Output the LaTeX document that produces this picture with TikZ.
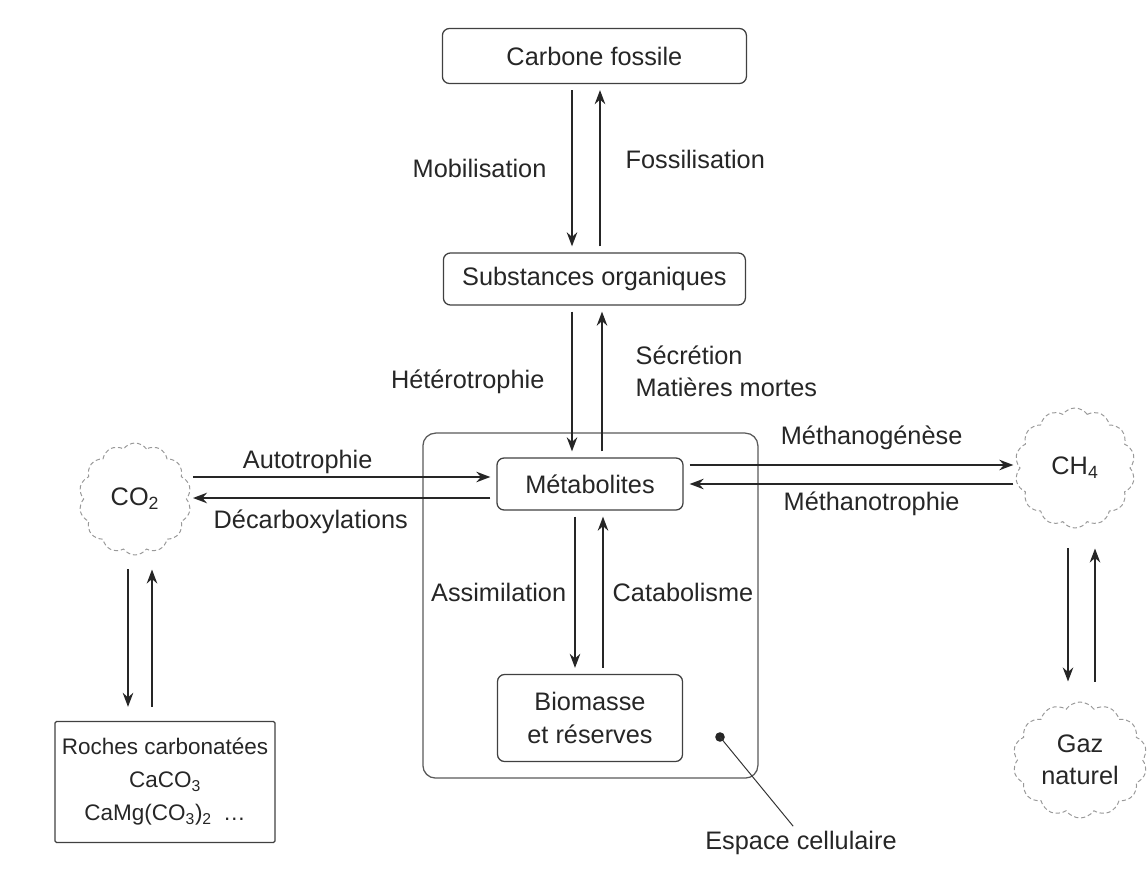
\documentclass[tikz,border=0pt]{standalone}
\usepackage{fontspec}
\setmainfont{Liberation Sans}
\usetikzlibrary{positioning,shapes.symbols,arrows.meta}
\tikzset{
  bo/.style={rectangle, rounded corners=5pt, draw=black!75, line width=0.9pt, text centered, align=center},
  ce/.style={rectangle, rounded corners=9pt, draw=black!65, line width=0.9pt},
  nu/.style={cloud, cloud puffs=14, cloud puff arc=110, cloud ignores aspect, draw=black!40, densely dashed, line width=0.7pt, align=center},
  fl/.style={->, line width=1.2pt, draw=black!85, shorten <=0.15cm, shorten >=0.15cm},
  lb/.style={inner sep=2pt},
  >={Stealth[length=10pt,width=7.5pt]}
}

\begin{document}
\begin{tikzpicture}[font=\fontsize{18}{23}\selectfont, text=black!85]
  \useasboundingbox (0,0) rectangle (28.7,21.9);
  \node[ce, minimum width=8.375cm, minimum height=8.625cm] (cell) at (14.76,6.76) {};
  \node[bo, minimum width=7.6cm, minimum height=1.375cm] (fossil) at (14.86,20.5) {Carbone fossile};
  \node[bo, minimum width=7.55cm, minimum height=1.3cm] (subst) at (14.86,14.925) {Substances organiques};
  \node[bo, minimum width=4.65cm, minimum height=1.3cm] (metab) at (14.75,9.8) {Métabolites};
  \node[bo, minimum width=4.625cm, minimum height=2.175cm] (biom) at (14.75,3.95) {Biomasse\\et réserves};
  \node[bo, rounded corners=1pt, minimum width=5.5cm, minimum height=3.025cm, font=\fontsize{16}{23.5}\selectfont] (roche) at (4.125,2.35) {Roches carbonatées\\CaCO\textsubscript{3}\\CaMg(CO\textsubscript{3})\textsubscript{2}\enspace …};
  \node[nu, minimum width=2.8cm, minimum height=2.8cm] (co2) at (3.375,9.425) {CO\textsubscript{2}};
  \node[nu, minimum width=3cm, minimum height=3cm] (ch4) at (26.875,10.2) {CH\textsubscript{4}};
  \node[nu, minimum width=3.35cm, minimum height=2.9cm] (gaz) at (27,2.9) {Gaz\\naturel};
  \node (cellbl) at (20.025,0.825) {Espace cellulaire};
  %
  \draw[fl] (14.3,0 |- fossil.south) -- node[lb, left=0.55cm] {Mobilisation} (14.3,0 |- subst.north);
  \draw[fl] (15,0 |- subst.north) -- node[lb, right=0.55cm, pos=0.55] {Fossilisation} (15,0 |- fossil.south);
  \draw[fl] (14.3,0 |- subst.south) -- node[lb, left=0.6cm] {Hétérotrophie} (14.3,0 |- metab.north);
  \draw[fl] (15.05,0 |- metab.north) -- node[lb, right=0.75cm, pos=0.565, align=left] {Sécrétion\\Matières mortes} (15.05,0 |- subst.south);
  \draw[fl] (14.375,0 |- metab.south) -- node[lb, left=0.13cm] {Assimilation} (14.375,0 |- biom.north);
  \draw[fl] (15.075,0 |- biom.north) -- node[lb, right=0.15cm] {Catabolisme} (15.075,0 |- metab.south);
  %
  \draw[fl] (co2.east |- 0,9.975) -- node[lb, above, pos=0.39] {Autotrophie} (metab.west |- 0,9.975);
  \draw[fl] (metab.west |- 0,9.45) -- node[lb, below=6pt, pos=0.6] {Décarboxylations} (co2.east |- 0,9.45);
  \draw[fl] (metab.east |- 0,10.275) -- node[lb, above=8pt, pos=0.56] {Méthanogénèse} (ch4.west |- 0,10.275);
  \draw[fl] (ch4.west |- 0,9.8) -- node[lb, below=3pt, pos=0.44] {Méthanotrophie} (metab.east |- 0,9.8);
  %
  \draw[fl, shorten <=0.35cm, shorten >=0.35cm] (3.2,0 |- co2.south) -- (3.2,0 |- roche.north);
  \draw[fl, shorten <=0.35cm, shorten >=0.35cm] (3.8,0 |- roche.north) -- (3.8,0 |- co2.south);
  \draw[fl, shorten <=0.5cm, shorten >=0.5cm] (26.7,0 |- ch4.south) -- (26.7,0 |- gaz.north);
  \draw[fl, shorten <=0.5cm, shorten >=0.5cm] (27.375,0 |- gaz.north) -- (27.375,0 |- ch4.south);
  %
  \coordinate (pt) at (18,3.475);
  \fill[black!85] (pt) circle (0.12);
  \draw[black!80, line width=0.7pt] (pt) -- (cellbl.115);
\end{tikzpicture}
\end{document}
